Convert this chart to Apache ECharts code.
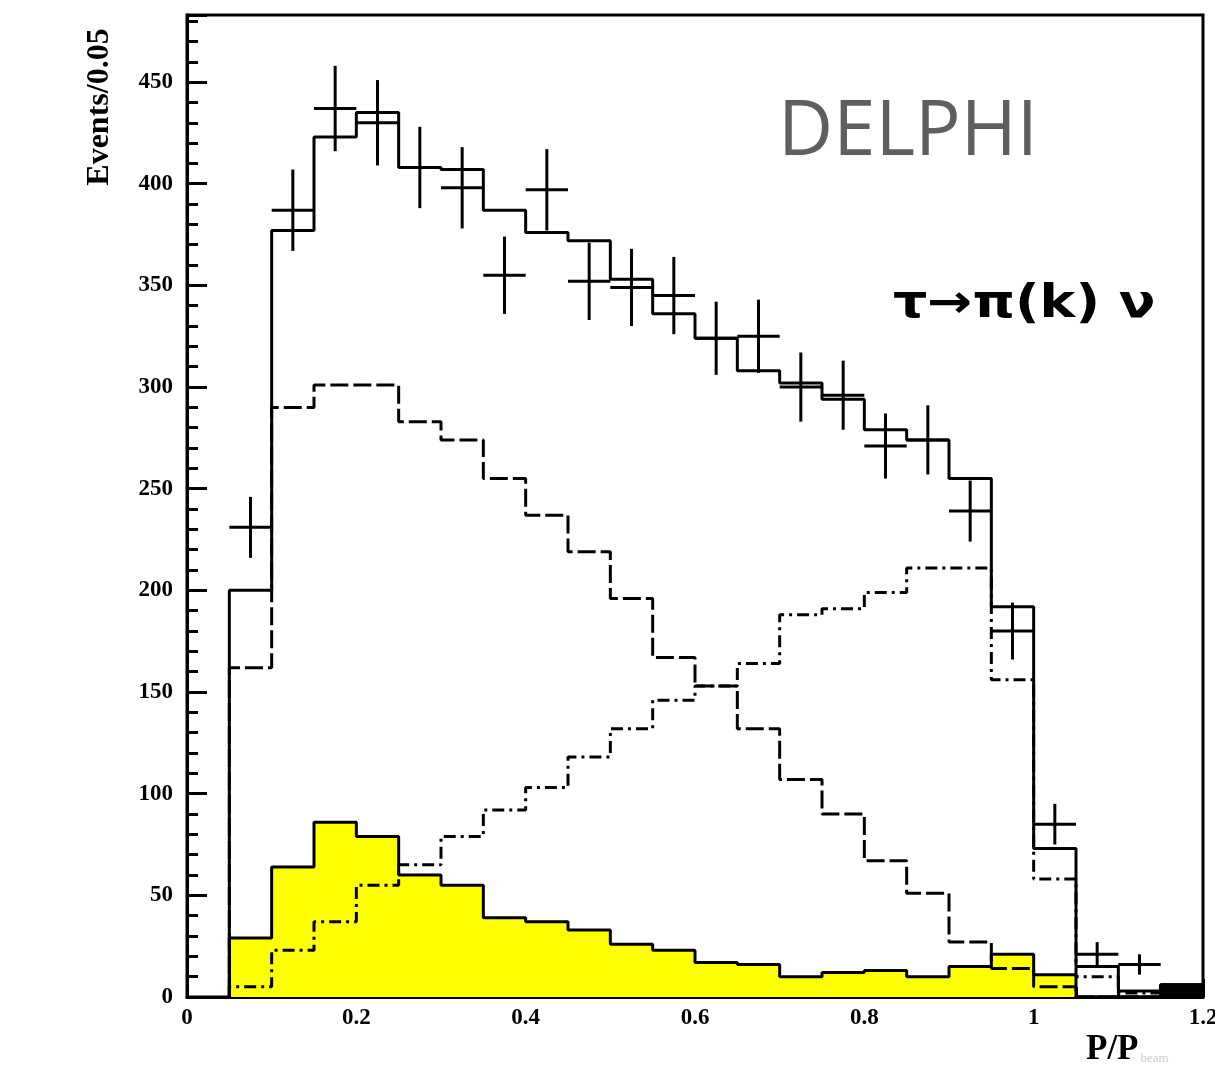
<!DOCTYPE html>
<html>
<head>
<meta charset="utf-8">
<style>
  html, body { margin: 0; padding: 0; background: #fff; }
  #chart { width: 1215px; height: 1069px; }
</style>
<script src="https://cdn.jsdelivr.net/npm/echarts/dist/echarts.min.js"></script>
</head>
<body>
<div id="chart"></div>
<script>
  // histogram bin edges, width 0.05 (P/P beam)
  const binEdges = [0.05, 0.1, 0.15, 0.2, 0.25, 0.3, 0.35, 0.4, 0.45, 0.5, 0.55, 0.6,
    0.65, 0.7, 0.75, 0.8, 0.85, 0.9, 0.95, 1.0, 1.05, 1.1, 1.15, 1.2]

  // total MC (solid)
  const mcTotal = [200, 377, 423, 435, 408, 407, 387, 376, 372, 353, 336, 324,
    308, 302, 294, 279, 274, 255, 192, 73, 15, 3, 6]
  // falling component (long dashes)
  const mcFalling = [162, 290, 301, 301, 283, 274, 255, 237, 219, 196, 167, 153,
    132, 107, 90, 67, 51, 27, 14, 5, 0, 0, 0]
  // rising component (dash-dot)
  const mcRising = [5, 23, 37, 55, 65, 79, 92, 103, 118, 132, 146, 153,
    164, 188, 191, 199, 211, 211, 156, 58, 10, 2, 0]
  // background (yellow)
  const background = [29, 64, 86, 79, 60, 55, 39, 37, 33, 26, 23, 17,
    16, 10, 12, 13, 10, 15, 21, 11, 0, 0, 0]
  // last bin, black filled
  const blackEdges = [1.15, 1.2]
  const blackValues = [6]

  // data points (bin centres), values and errors
  const dataX = [0.075, 0.125, 0.175, 0.225, 0.275, 0.325, 0.375, 0.425, 0.475, 0.525, 0.575,
    0.625, 0.675, 0.725, 0.775, 0.825, 0.875, 0.925, 0.975, 1.025, 1.075, 1.125]
  const dataY = [231, 387, 437, 430, 408, 398, 355, 397, 352, 349, 345,
    324, 325, 300, 296, 271, 274, 239, 180, 85, 21, 16]
  const dataErr = [15, 20, 21, 21, 20, 20, 19, 20, 19, 19, 19,
    18, 18, 17, 17, 16, 17, 15, 14, 10, 6, 5]

  const yTicks = [0, 50, 100, 150, 200, 250, 300, 350, 400, 450]

  // step points for a histogram drawn with step: 'end'
  function toSteps(edges, values) {
    const pts = [[edges[0], 0]]
    values.forEach((v, i) => pts.push([edges[i], v]))
    pts.push([edges[values.length], values[values.length - 1]])
    pts.push([edges[values.length], 0])
    return pts
  }

  const halfBin = 0.025
  const serif = '"Liberation Serif", "Times New Roman", serif'

  function renderCross(params, api) {
    const x = api.value(0)
    const y = api.value(1)
    const e = api.value(2)
    const l = api.coord([x - halfBin, y])
    const r = api.coord([x + halfBin, y])
    const t = api.coord([x, y + e])
    const b = api.coord([x, y - e])
    const style = { stroke: '#000', lineWidth: 3 }
    return {
      type: 'group',
      children: [
        { type: 'line', shape: { x1: l[0], y1: l[1], x2: r[0], y2: r[1] }, style },
        { type: 'line', shape: { x1: t[0], y1: t[1], x2: b[0], y2: b[1] }, style },
      ],
    }
  }

  function histLine(name, values, lineType, z) {
    return {
      name,
      type: 'line',
      step: 'end',
      symbol: 'none',
      silent: true,
      z,
      lineStyle: { color: '#000', width: 3, type: lineType },
      data: toSteps(binEdges, values),
    }
  }

  const chart = echarts.init(document.getElementById('chart'))
  chart.setOption({
    animation: false,
    backgroundColor: '#fff',
    grid: {
      left: 187,
      right: 12,
      top: 15,
      bottom: 72,
      show: true,
      borderColor: '#000',
      borderWidth: 3,
      outerBoundsMode: 'none',
    },
    xAxis: {
      type: 'value',
      min: 0,
      max: 1.2,
      interval: 0.2,
      axisLine: { lineStyle: { color: '#000', width: 3 } },
      axisTick: { inside: true, length: 18, lineStyle: { color: '#000', width: 3 } },
      minorTick: { show: true, splitNumber: 4, length: 10, lineStyle: { color: '#000', width: 3 } },
      splitLine: { show: false },
      axisLabel: {
        margin: 10,
        color: '#000',
        fontFamily: serif,
        fontWeight: 'bold',
        fontSize: 23,
      },
    },
    yAxis: {
      type: 'value',
      min: 0,
      max: 483,
      interval: 50,
      axisLine: { lineStyle: { color: '#000', width: 3 } },
      axisTick: { inside: true, length: 20, lineStyle: { color: '#000', width: 3 } },
      minorTick: { show: true, splitNumber: 5, length: 11, lineStyle: { color: '#000', width: 3 } },
      splitLine: { show: false },
      axisLabel: {
        margin: 14,
        color: '#000',
        fontFamily: serif,
        fontWeight: 'bold',
        fontSize: 23,
        showMaxLabel: false,
        formatter: v => (yTicks.includes(v) ? String(v) : ''),
      },
    },
    graphic: [
      {
        type: 'text',
        x: 100,
        y: 107,
        rotation: Math.PI / 2,
        style: {
          text: 'Events/0.05',
          fill: '#000',
          fontFamily: serif,
          fontWeight: 'bold',
          fontSize: 32,
          align: 'center',
          verticalAlign: 'middle',
        },
      },
      {
        type: 'text',
        x: 778,
        y: 133,
        style: {
          text: 'DELPHI',
          fill: '#5f5f5f',
          fontFamily: '"Open Sans", sans-serif',
          fontSize: 76,
          align: 'left',
          verticalAlign: 'middle',
        },
      },
      {
        type: 'text',
        x: 893,
        y: 305,
        scaleX: 1.17,
        style: {
          text: 'τ→π(k) ν',
          fill: '#000',
          fontFamily: '"DejaVu Sans", sans-serif',
          fontWeight: 'bold',
          fontSize: 46,
          align: 'left',
          verticalAlign: 'middle',
        },
      },
      {
        type: 'text',
        x: 1086,
        y: 1050,
        style: {
          text: '{a|P/P}{b|beam}',
          align: 'left',
          verticalAlign: 'middle',
          rich: {
            a: { fontFamily: serif, fontWeight: 'bold', fontSize: 35, fill: '#000' },
            b: { fontFamily: serif, fontSize: 13, fill: '#c9cad6', padding: [18, 0, 0, 2] },
          },
        },
      },
    ],
    series: [
      {
        name: 'background',
        type: 'line',
        step: 'end',
        symbol: 'none',
        silent: true,
        z: 2,
        lineStyle: { color: '#000', width: 3 },
        areaStyle: { color: '#ffff00', opacity: 1 },
        data: toSteps(binEdges, background),
      },
      {
        name: 'black',
        type: 'line',
        step: 'end',
        symbol: 'none',
        silent: true,
        z: 2,
        lineStyle: { color: '#000', width: 3 },
        areaStyle: { color: '#000', opacity: 1 },
        data: toSteps(blackEdges, blackValues),
      },
      histLine('falling', mcFalling, [18, 5], 3),
      histLine('rising', mcRising, [12, 5, 3, 5], 3),
      histLine('total', mcTotal, 'solid', 4),
      {
        name: 'data',
        type: 'custom',
        silent: true,
        z: 5,
        renderItem: renderCross,
        encode: { x: 0, y: 1 },
        data: dataX.map((x, i) => [x, dataY[i], dataErr[i]]),
      },
    ],
  })
</script>
</body>
</html>
